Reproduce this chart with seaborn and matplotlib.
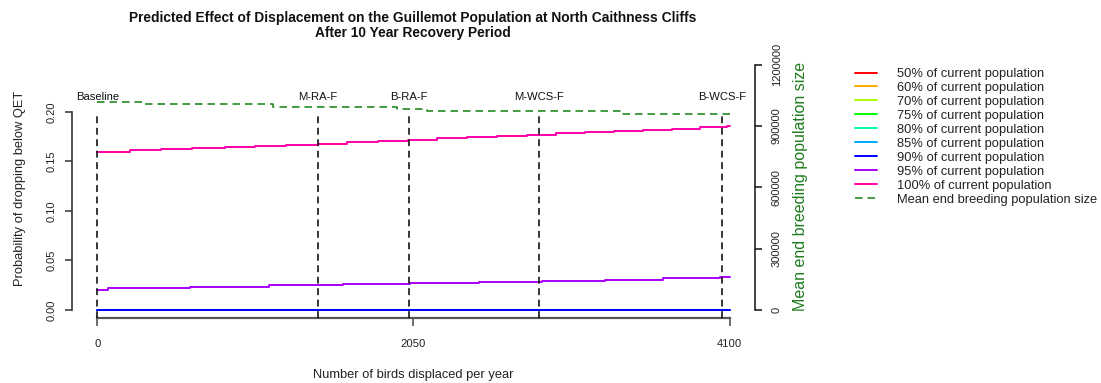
import numpy as np
import pandas as pd
import matplotlib
matplotlib.use('Agg')
import matplotlib.pyplot as plt
import seaborn as sns
from matplotlib.lines import Line2D

# ---------------- data ----------------
series_labels = ['50% of current population', '60% of current population',
                 '70% of current population', '75% of current population',
                 '80% of current population', '85% of current population',
                 '90% of current population', '95% of current population',
                 '100% of current population']
series_colors = ['#FF0000', '#FFAA00', '#AAFF00', '#00FF00', '#00FFAA',
                 '#00AAFF', '#0000FF', '#AA00FF', '#FF00AA']

zero_x = [0, 4100]
p50 = [0.0, 0.0]
p60 = [0.0, 0.0]
p70 = [0.0, 0.0]
p75 = [0.0, 0.0]
p80 = [0.0, 0.0]
p85 = [0.0, 0.0]
p90 = [0.0, 0.0]

p95_x = [0, 70, 600, 1110, 1590, 2030, 2475, 2880, 3290, 3670, 4040, 4100]
p95 = [0.0205, 0.0219, 0.0235, 0.0250, 0.0264, 0.0272, 0.0283, 0.0296,
       0.0307, 0.0320, 0.0333, 0.0333]

p100_x = [0, 215, 415, 615, 825, 1025, 1225, 1430, 1620, 1820, 2015, 2200,
          2395, 2590, 2785, 2975, 3165, 3350, 3535, 3725, 3910, 4085, 4100]
p100 = [0.1600, 0.1611, 0.1622, 0.1634, 0.1645, 0.1656, 0.1667, 0.1680,
        0.1694, 0.1707, 0.1720, 0.1733, 0.1747, 0.1760, 0.1772, 0.1784,
        0.1796, 0.1809, 0.1821, 0.1833, 0.1845, 0.1862, 0.1862]

pop_x = [0, 290, 1140, 1945, 2140, 3390, 4100]
pop_mean = [1015000, 1005000, 994000, 983000, 975000, 957000, 957000]

scenario_x = [0, 1430, 2020, 2865, 4050]
scenario_labels = ['Baseline', 'M-RA-F', 'B-RA-F', 'M-WCS-F', 'B-WCS-F']

x_ticks = [0, 2050, 4100]
y_ticks = [0.00, 0.05, 0.10, 0.15, 0.20]
y_tick_labels = ['0.00', '0.05', '0.10', '0.15', '0.20']
pop_ticks = [0, 300000, 600000, 900000, 1200000]
pop_tick_labels = ['0', '300000', '600000', '900000', '1200000']

# ---------------- build long table ----------------
rows = []
xs_list = [zero_x] * 7 + [p95_x, p100_x]
ys_list = [p50, p60, p70, p75, p80, p85, p90, p95, p100]
for lab, xs, ys in zip(series_labels, xs_list, ys_list):
    for xv, yv in zip(xs, ys):
        rows.append({'birds': xv, 'prob': yv, 'series': lab})
df = pd.DataFrame(rows)
pop_df = pd.DataFrame({'birds': pop_x, 'pop': pop_mean})

# ---------------- figure ----------------
sns.set_theme(style='white')
plt.rcParams['font.family'] = ['Liberation Sans', 'DejaVu Sans']

W, H = 1101, 383
fig = plt.figure(figsize=(W / 100, H / 100), dpi=100)

def fx(px):
    return px / W

def fy(py):
    return 1 - py / H

left_px, right_px, bottom_px, top_px = 72, 755, 318, 50
ax = fig.add_axes([fx(left_px), fy(bottom_px), fx(right_px - left_px),
                   (bottom_px - top_px) / H])
ax.set_facecolor('none')

palette = dict(zip(series_labels, series_colors))
sns.lineplot(data=df, x='birds', y='prob', hue='series', hue_order=series_labels,
             palette=palette, estimator=None, sort=False, drawstyle='steps-post',
             linewidth=1.4, legend=False, ax=ax)

ax.set_xlim(-164, 4264)
ax.set_ylim(-0.00808, 0.2626)

# scenario lines
ax.vlines(scenario_x, -0.00808, 0.2, colors='black', linestyles=(0, (4.5, 3)),
          linewidth=1.1, zorder=3)
for xv, lab in zip(scenario_x, scenario_labels):
    ax.text(xv, 0.2121, lab, ha='center', va='baseline', fontsize=8.1, color='#111111')

for s in ['top', 'right']:
    ax.spines[s].set_visible(False)
ax.spines['left'].set_bounds(0, 0.2)
ax.spines['bottom'].set_bounds(0, 4100)
ax.spines['left'].set_color('#333333')
ax.spines['bottom'].set_color('#555555')
ax.spines['left'].set_linewidth(1.2)
ax.spines['bottom'].set_linewidth(1.6)

ax.set_xticks(x_ticks)
ax.set_xticklabels([str(t) for t in x_ticks])
ax.set_yticks(y_ticks)
ax.set_yticklabels(y_tick_labels)
ax.tick_params(axis='x', bottom=True, length=5.8, width=1.2, color='#555555',
               labelsize=8.1, pad=9.0, labelcolor='#222222')
ax.tick_params(axis='y', left=True, length=5, width=1.1, color='#333333',
               labelsize=8.0, pad=6.3, labelcolor='#222222')
for t in ax.get_yticklabels():
    t.set_rotation(90)
    t.set_va('center')
ax.set_xlabel('')
ax.set_ylabel('')

# secondary axis
ax2 = ax.twinx()
ax2.set_facecolor('none')
sns.lineplot(data=pop_df, x='birds', y='pop', drawstyle='steps-post',
             color='#228B22', linewidth=1.2, linestyle=(0, (4.5, 3)), ax=ax2)
ax2.set_ylim(-39104, 1270880)
ax2.set_xlim(-164, 4264)
for s in ['top', 'left', 'bottom']:
    ax2.spines[s].set_visible(False)
ax2.spines['right'].set_bounds(0, 1200000)
ax2.spines['right'].set_color('#111111')
ax2.spines['right'].set_linewidth(1.1)
ax2.set_yticks(pop_ticks)
ax2.set_yticklabels(pop_tick_labels)
ax2.tick_params(axis='y', right=True, length=5, width=1.1, color='#111111',
                labelsize=8.0, pad=7.0, labelcolor='#222222')
for t in ax2.get_yticklabels():
    t.set_rotation(90)
    t.set_va('center')
ax2.set_ylabel('')
ax2.set_xlabel('')

# titles and labels
fig.text(fx(413), fy(22), 'Predicted Effect of Displacement on the Guillemot Population at North Caithness Cliffs',
         ha='center', va='baseline', fontsize=9.95, fontweight='bold', color='#111111')
fig.text(fx(413), fy(37.5), 'After 10 Year Recovery Period',
         ha='center', va='baseline', fontsize=9.95, fontweight='bold', color='#111111')
fig.text(fx(413), fy(378), 'Number of birds displaced per year', ha='center',
         va='baseline', fontsize=9.3, color='#222222')
fig.text(fx(20), fy(188), 'Probability of dropping below QET', ha='center',
         va='center', rotation=90, fontsize=9.3, color='#222222')
fig.text(fx(801), fy(186), 'Mean end breeding population size', ha='center',
         va='center', rotation=90, fontsize=11.5, color='#1E7B1E')

# legend
handles = [Line2D([0], [0], color=c, lw=1.4) for c in series_colors]
handles.append(Line2D([0], [0], color='#228B22', lw=1.2, linestyle=(0, (4.5, 3))))
labels = series_labels + ['Mean end breeding population size']
fig.legend(handles, labels, loc='upper left', bbox_to_anchor=(fx(855), fy(68)),
           frameon=False, fontsize=9.3, handlelength=1.7, handletextpad=1.55,
           labelspacing=0.15, borderpad=0, borderaxespad=0, labelcolor='#222222')

fig.savefig('out.png', dpi=100)
